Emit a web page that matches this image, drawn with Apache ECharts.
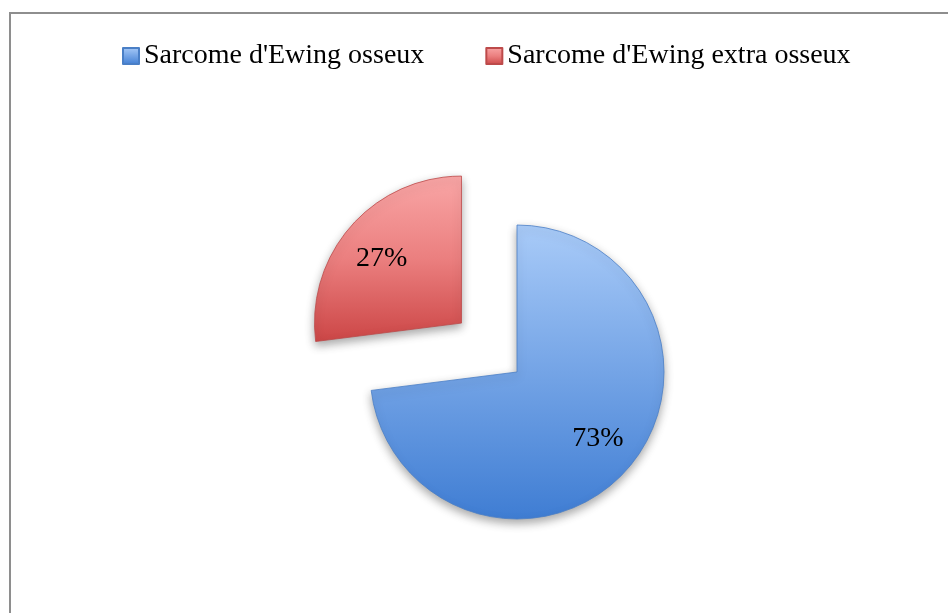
<!DOCTYPE html>
<html>
<head>
<meta charset="utf-8">
<script src="https://cdn.jsdelivr.net/npm/echarts@6/dist/echarts.min.js"></script>
<style>
  html, body { margin: 0; padding: 0; background: #ffffff; }
  #chart { width: 948px; height: 613px; }
</style>
</head>
<body>
<div id="chart"></div>
<script>
// Répartition des sarcomes d'Ewing selon la localisation
const categories = ["Sarcome d'Ewing osseux", "Sarcome d'Ewing extra osseux"];
const percentages = [73, 27];
const explodedSlices = [false, true];

// slice styling
const fillStops = [
  ['#a9cbf8', '#74a4e6', '#3f7dd3'],
  ['#f9a6a6', '#eb7f7f', '#cc4646']
];
const edgeColors = ['#4a7fc6', '#bd4a4a'];
const labelNudge = [[1, -4], [0, 6]];

function gradient(stops) {
  return new echarts.graphic.LinearGradient(0, 0, 0, 1, [
    { offset: 0, color: stops[0] },
    { offset: 0.5, color: stops[1] },
    { offset: 1, color: stops[2] }
  ]);
}

const FONT = '"Liberation Serif", "DejaVu Serif", serif';
const CENTER = [517, 372];
const RADIUS = 147;
const EXPLODE = 74;

const sliceData = categories.map((name, i) => ({
  name: name,
  value: percentages[i],
  selected: explodedSlices[i],
  itemStyle: {
    color: gradient(fillStops[i]),
    borderColor: edgeColors[i],
    borderWidth: 0.8,
    shadowBlur: 10,
    shadowOffsetY: 4,
    shadowColor: 'rgba(0,0,0,0.35)'
  },
  select: {
    itemStyle: {
      color: gradient(fillStops[i]),
      borderColor: edgeColors[i],
      borderWidth: 0.8
    }
  }
}));

const labelData = categories.map((name, i) => ({
  name: name,
  value: percentages[i],
  selected: explodedSlices[i],
  label: { offset: labelNudge[i] },
  select: { label: { offset: labelNudge[i] } }
}));

const chart = echarts.init(document.getElementById('chart'), null, { renderer: 'canvas' });

chart.setOption({
  backgroundColor: '#ffffff',
  animation: false,
  color: fillStops.map(s => s[1]),
  graphic: [{
    type: 'rect',
    shape: { x: 10, y: 13, width: 1000, height: 1000 },
    style: { fill: 'none', stroke: '#8e8e8e', lineWidth: 2 },
    silent: true,
    z: -10
  }],
  legend: {
    left: 117,
    top: 37,
    itemWidth: 16,
    itemHeight: 16,
    itemGap: 61,
    icon: 'rect',
    selectedMode: false,
    textStyle: { fontFamily: FONT, fontSize: 28, color: '#000000' },
    data: categories
  },
  series: [
    {
      type: 'pie',
      name: 'slices',
      center: CENTER,
      radius: [0, RADIUS],
      startAngle: 90,
      clockwise: true,
      selectedMode: 'multiple',
      selectedOffset: EXPLODE,
      label: { show: false },
      labelLine: { show: false },
      emphasis: { disabled: true },
      data: sliceData
    },
    {
      // transparent ring carrying the percentage labels
      type: 'pie',
      name: 'labels',
      center: CENTER,
      radius: [60, RADIUS],
      startAngle: 90,
      clockwise: true,
      silent: true,
      selectedMode: 'multiple',
      selectedOffset: EXPLODE,
      itemStyle: { color: 'rgba(0,0,0,0)' },
      select: { itemStyle: { color: 'rgba(0,0,0,0)', borderWidth: 0 } },
      emphasis: { disabled: true },
      label: {
        show: true,
        position: 'inside',
        formatter: p => p.value + '%',
        fontFamily: FONT,
        fontSize: 28,
        color: '#000000'
      },
      labelLine: { show: false },
      data: labelData
    }
  ]
});
</script>
</body>
</html>
